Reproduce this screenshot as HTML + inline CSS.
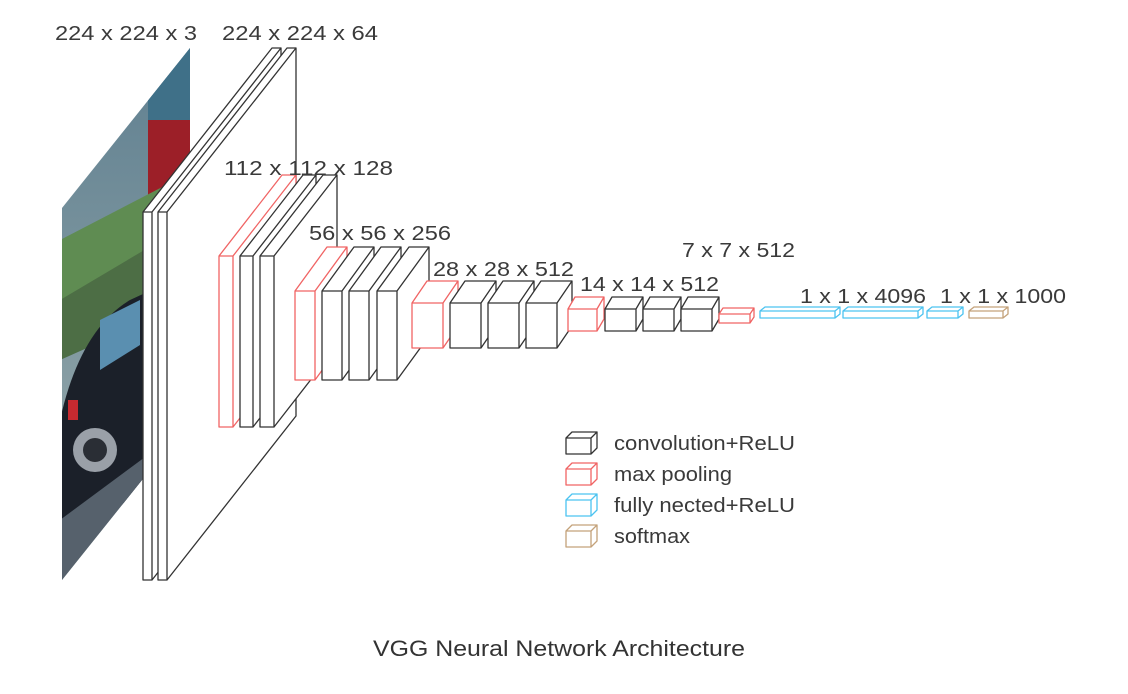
<!DOCTYPE html>
<html><head><meta charset="utf-8"><style>
html,body{margin:0;padding:0;background:#fff;}
svg{display:block;}
text{font-family:"Liberation Sans",sans-serif;fill:#3a3a3a;}
</style></head><body>
<svg width="1128" height="694" viewBox="0 0 1128 694" xmlns="http://www.w3.org/2000/svg">
<defs>
<clipPath id="img"><polygon points="62,208 190,48 190,420 62,580"/></clipPath>
<linearGradient id="sky" x1="0" y1="0" x2="0" y2="1"><stop offset="0" stop-color="#5f7f90"/><stop offset="1" stop-color="#9fb0b0"/></linearGradient>
</defs>
<g clip-path="url(#img)">
<rect x="60" y="40" width="135" height="560" fill="url(#sky)"/>
<rect x="148" y="40" width="45" height="80" fill="#3f7088"/>
<rect x="148" y="120" width="45" height="80" fill="#9c1f28"/>
<polygon points="60,240 195,170 195,260 60,340" fill="#5f8c52"/>
<polygon points="60,300 195,220 195,300 60,360" fill="#4d6e45"/>
<path d="M60,420 Q80,330 130,300 L195,270 L195,440 L60,560 Z" fill="#1b2029"/>
<polygon points="100,320 140,300 140,345 100,370" fill="#5a8fb0"/>
<circle cx="95" cy="450" r="22" fill="#9aa0a8"/><circle cx="95" cy="450" r="12" fill="#2a2e35"/>
<polygon points="60,520 195,420 195,600 60,600" fill="#56616c"/>
<rect x="68" y="400" width="10" height="20" fill="#c62a30"/>
</g>
<g fill="#fff" stroke="#333" stroke-width="1.3" stroke-linejoin="round">
<path transform="translate(143,212)" d="M0 0h9v368h-9z M0 0l129-164h9l-129 164z M9 0l129-164v368l-129 164z"/>
<path transform="translate(158,212)" d="M0 0h9v368h-9z M0 0l129-164h9l-129 164z M9 0l129-164v368l-129 164z"/>
<path transform="translate(219,256)" stroke="#f06464" d="M0 0h14v171h-14z M0 0l63-81h14l-63 81z M14 0l63-81v171l-63 81z"/>
<path transform="translate(240,256)" d="M0 0h13v171h-13z M0 0l63-81h13l-63 81z M13 0l63-81v171l-63 81z"/>
<path transform="translate(260,256)" d="M0 0h14v171h-14z M0 0l63-81h14l-63 81z M14 0l63-81v171l-63 81z"/>
<path transform="translate(295,291)" stroke="#f06464" d="M0 0h20v89h-20z M0 0l32-44h20l-32 44z M20 0l32-44v89l-32 44z"/>
<path transform="translate(322,291)" d="M0 0h20v89h-20z M0 0l32-44h20l-32 44z M20 0l32-44v89l-32 44z"/>
<path transform="translate(349,291)" d="M0 0h20v89h-20z M0 0l32-44h20l-32 44z M20 0l32-44v89l-32 44z"/>
<path transform="translate(377,291)" d="M0 0h20v89h-20z M0 0l32-44h20l-32 44z M20 0l32-44v89l-32 44z"/>
<path transform="translate(412,303)" stroke="#f06464" d="M0 0h31v45h-31z M0 0l15-22h31l-15 22z M31 0l15-22v45l-15 22z"/>
<path transform="translate(450,303)" d="M0 0h31v45h-31z M0 0l15-22h31l-15 22z M31 0l15-22v45l-15 22z"/>
<path transform="translate(488,303)" d="M0 0h31v45h-31z M0 0l15-22h31l-15 22z M31 0l15-22v45l-15 22z"/>
<path transform="translate(526,303)" d="M0 0h31v45h-31z M0 0l15-22h31l-15 22z M31 0l15-22v45l-15 22z"/>
<path transform="translate(568,309)" stroke="#f06464" d="M0 0h29v22h-29z M0 0l7-12h29l-7 12z M29 0l7-12v22l-7 12z"/>
<path transform="translate(605,309)" d="M0 0h31v22h-31z M0 0l7-12h31l-7 12z M31 0l7-12v22l-7 12z"/>
<path transform="translate(643,309)" d="M0 0h31v22h-31z M0 0l7-12h31l-7 12z M31 0l7-12v22l-7 12z"/>
<path transform="translate(681,309)" d="M0 0h31v22h-31z M0 0l7-12h31l-7 12z M31 0l7-12v22l-7 12z"/>
<path transform="translate(719,314)" stroke="#f06464" d="M0 0h31v9h-31z M0 0l4-6h31l-4 6z M31 0l4-6v9l-4 6z"/>
<path transform="translate(760,311)" stroke="#4cc3f0" d="M0 0h75v7h-75z M0 0l5-4h75l-5 4z M75 0l5-4v7l-5 4z"/>
<path transform="translate(843,311)" stroke="#4cc3f0" d="M0 0h75v7h-75z M0 0l5-4h75l-5 4z M75 0l5-4v7l-5 4z"/>
<path transform="translate(927,311)" stroke="#4cc3f0" d="M0 0h31v7h-31z M0 0l5-4h31l-5 4z M31 0l5-4v7l-5 4z"/>
<path transform="translate(969,311)" stroke="#c4a27a" d="M0 0h34v7h-34z M0 0l5-4h34l-5 4z M34 0l5-4v7l-5 4z"/>
<path transform="translate(566,438)" d="M0 0h25v16h-25z M0 0l6-6h25l-6 6z M25 0l6-6v16l-6 6z"/>
<path transform="translate(566,469)" stroke="#f06464" d="M0 0h25v16h-25z M0 0l6-6h25l-6 6z M25 0l6-6v16l-6 6z"/>
<path transform="translate(566,500)" stroke="#4cc3f0" d="M0 0h25v16h-25z M0 0l6-6h25l-6 6z M25 0l6-6v16l-6 6z"/>
<path transform="translate(566,531)" stroke="#c4a27a" d="M0 0h25v16h-25z M0 0l6-6h25l-6 6z M25 0l6-6v16l-6 6z"/>
</g>
<g font-size="20">
<text x="55" y="40" textLength="142" lengthAdjust="spacingAndGlyphs">224 x 224 x 3</text>
<text x="222" y="40" textLength="156" lengthAdjust="spacingAndGlyphs">224 x 224 x 64</text>
<text x="224" y="175" textLength="169" lengthAdjust="spacingAndGlyphs">112 x 112 x 128</text>
<text x="309" y="240" textLength="142" lengthAdjust="spacingAndGlyphs">56 x 56 x 256</text>
<text x="433" y="276" textLength="141" lengthAdjust="spacingAndGlyphs">28 x 28 x 512</text>
<text x="580" y="291" textLength="139" lengthAdjust="spacingAndGlyphs">14 x 14 x 512</text>
<text x="682" y="257" textLength="113" lengthAdjust="spacingAndGlyphs">7 x 7 x 512</text>
<text x="800" y="303" textLength="126" lengthAdjust="spacingAndGlyphs">1 x 1 x 4096</text>
<text x="940" y="303" textLength="126" lengthAdjust="spacingAndGlyphs">1 x 1 x 1000</text>
<text x="614" y="450" textLength="181" lengthAdjust="spacingAndGlyphs">convolution+ReLU</text>
<text x="614" y="481" textLength="118" lengthAdjust="spacingAndGlyphs">max pooling</text>
<text x="614" y="512" textLength="181" lengthAdjust="spacingAndGlyphs">fully nected+ReLU</text>
<text x="614" y="543" textLength="76" lengthAdjust="spacingAndGlyphs">softmax</text>
</g>
<text x="559" y="656" font-size="22" text-anchor="middle" style="fill:#333" textLength="372" lengthAdjust="spacingAndGlyphs">VGG Neural Network Architecture</text>
</svg>
</body></html>
